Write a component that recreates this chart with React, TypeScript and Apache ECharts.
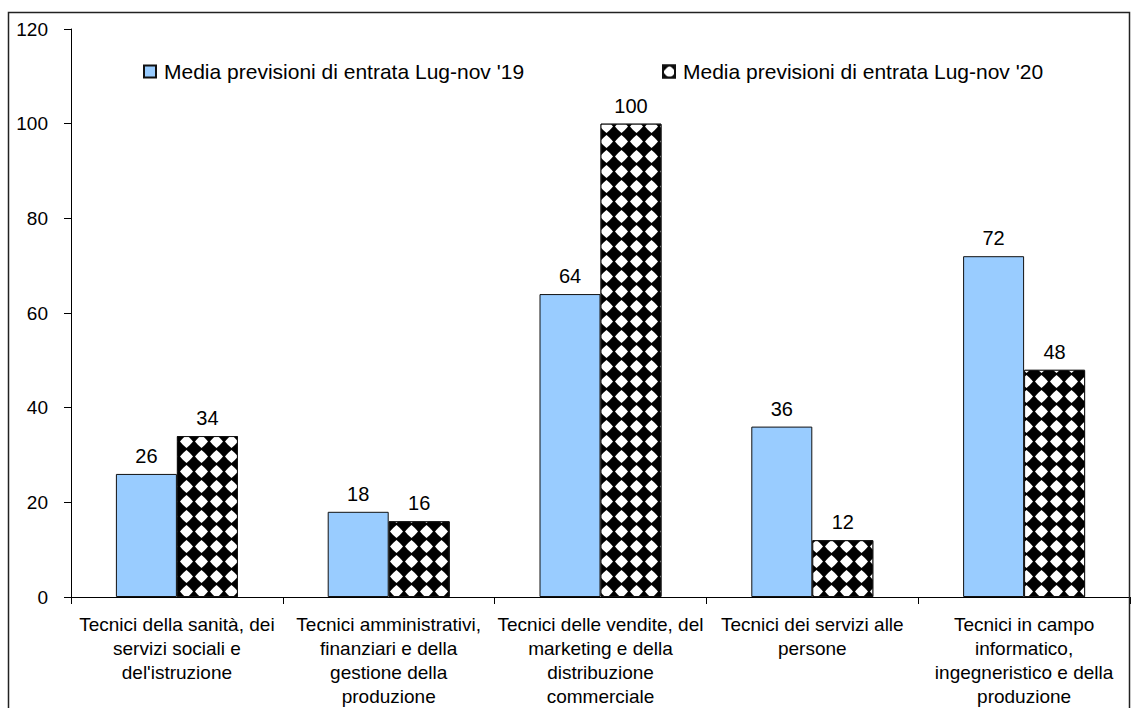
import React, { useEffect, useRef } from "react";
import * as echarts from "echarts";

const categories: string[] = [
  "Tecnici della sanità, dei\nservizi sociali e\ndel'istruzione",
  "Tecnici amministrativi,\nfinanziari e della\ngestione della\nproduzione",
  "Tecnici delle vendite, del\nmarketing e della\ndistribuzione\ncommerciale",
  "Tecnici dei servizi alle\npersone",
  "Tecnici in campo\ninformatico,\ningegneristico e della\nproduzione",
];
const seriesNames: string[] = [
  "Media previsioni di entrata Lug-nov '19",
  "Media previsioni di entrata Lug-nov '20",
];
const values2019: number[] = [26, 18, 64, 36, 72];
const values2020: number[] = [34, 16, 100, 12, 48];
const yTicks = { min: 0, max: 120, interval: 20 };

const FONT = 'Arial, "Liberation Sans", sans-serif';

export default function App() {
  const ref = useRef<HTMLDivElement>(null);
  useEffect(() => {
    if (!ref.current) return;
    const chart = echarts.init(ref.current, null, { renderer: "svg" });
    const diamond =
      "path://M50,0 Q78,22 100,50 Q78,78 50,100 Q22,78 0,50 Q22,22 50,0 Z";
    const legendText = {
      fontSize: 21,
      color: "#000",
      fontFamily: FONT,
      padding: [0, 0, 0, 3],
    };
    chart.setOption({
      animation: false,
      backgroundColor: "#fff",
      textStyle: { fontFamily: FONT, color: "#000" },
      graphic: [
        {
          type: "rect",
          z: 100,
          silent: true,
          shape: { x: 8.5, y: 12.5, width: 1121, height: 740 },
          style: { fill: "none", stroke: "#222", lineWidth: 1.5 },
        },
      ],
      legend: [
        {
          data: [seriesNames[0]],
          left: 138,
          top: 56,
          icon: "rect",
          itemWidth: 12,
          itemHeight: 12,
          textStyle: legendText,
        },
        {
          data: [seriesNames[1]],
          left: 657,
          top: 56,
          icon: "rect",
          itemWidth: 12,
          itemHeight: 12,
          textStyle: legendText,
        },
      ],
      grid: { left: 71, right: 3, top: 29, bottom: 110, containLabel: false },
      xAxis: {
        type: "category",
        data: categories,
        axisLine: { lineStyle: { color: "#000", width: 1 } },
        axisTick: { show: true, length: 7, lineStyle: { color: "#000" } },
        axisLabel: {
          interval: 0,
          margin: 15,
          fontSize: 19,
          lineHeight: 24,
          color: "#000",
          fontFamily: FONT,
          align: "center",
        },
      },
      yAxis: {
        type: "value",
        min: yTicks.min,
        max: yTicks.max,
        interval: yTicks.interval,
        splitLine: { show: false },
        axisLine: { show: true, lineStyle: { color: "#000", width: 1 } },
        axisTick: { show: true, length: 7, lineStyle: { color: "#000" } },
        axisLabel: { fontSize: 19, color: "#000", margin: 23, fontFamily: FONT },
      },
      series: [
        {
          name: seriesNames[0],
          type: "bar",
          data: values2019,
          barWidth: 61,
          barGap: "0%",
          itemStyle: { color: "#99CCFF", borderColor: "#111", borderWidth: 1 },
          label: {
            show: true,
            position: "top",
            distance: 8,
            fontSize: 20,
            color: "#000",
            fontFamily: FONT,
          },
        },
        {
          name: seriesNames[1],
          type: "bar",
          data: values2020,
          barWidth: 61,
          barGap: "0%",
          itemStyle: {
            color: "#000",
            borderColor: "#111",
            borderWidth: 1,
            decal: {
              symbol: diamond,
              symbolSize: 1,
              color: "#fff",
              backgroundColor: "rgba(0,0,0,0)",
              dashArrayX: [13, 2],
              dashArrayY: [13, 2],
              rotation: 0,
            },
          },
          label: {
            show: true,
            position: "top",
            distance: 8,
            fontSize: 20,
            color: "#000",
            fontFamily: FONT,
          },
        },
      ],
    });
    return () => chart.dispose();
  }, []);
  return (
    <div
      ref={ref}
      style={{ position: "absolute", left: 0, top: 0, width: 1133, height: 708 }}
    />
  );
}
